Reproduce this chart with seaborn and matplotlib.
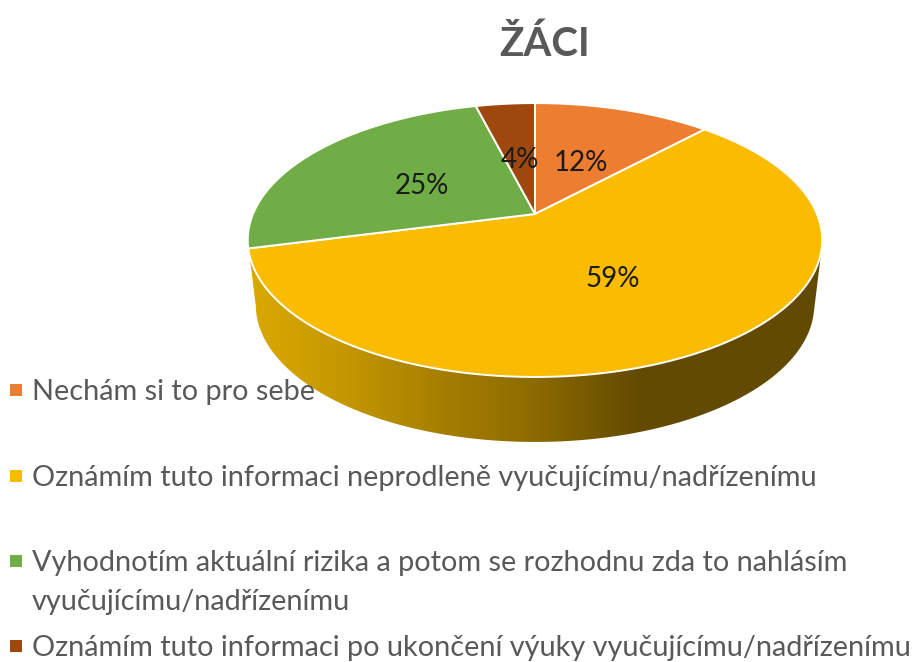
import numpy as np
import matplotlib
matplotlib.use('Agg')
import matplotlib.pyplot as plt
from matplotlib.colors import LinearSegmentedColormap
from matplotlib.patches import Polygon
import seaborn as sns

title = 'ŽÁCI'
shares = [12, 59, 25, 4]
slice_colors = ['#ED7D31', '#FBBC00', '#70AD47', '#9E480E']
legend_labels = [
    ['Nechám si to pro sebe'],
    ['Oznámím tuto informaci neprodleně vyučujícímu/nadřízenímu'],
    ['Vyhodnotím aktuální rizika a potom se rozhodnu zda to nahlásím', 'vyučujícímu/nadřízenímu'],
    ['Oznámím tuto informaci po ukončení výuky vyučujícímu/nadřízenímu'],
]

sns.set_theme(style='white')
plt.rcParams['font.family'] = ['Lato', 'DejaVu Sans']

# pie tilted in perspective, everything in picture pixels
CX, CY = 535, 214
A, B, K = 282, 132, 0.19
DEPTH = 65
BASE_SHRINK = 0.972


def rim(angles):
    # angle in degrees, clockwise from 12 o'clock
    u, v = np.sin(np.radians(angles)), np.cos(np.radians(angles))
    w = 1 + K * v
    return CX + A * u / w, CY - B * v / w


fig = plt.figure(figsize=(9.18, 6.62), dpi=100)
ax = fig.add_axes([0, 0, 1, 1])
ax.set_xlim(0, 918)
ax.set_ylim(662, 0)
ax.axis('off')

# side wall, only the front part shows
edges = np.cumsum([0] + shares) * 3.6
front = np.linspace(104, edges[2] + 3, 200)
top_x, top_y = rim(front)
base_x = CX + (top_x - CX) * BASE_SHRINK
base_y = top_y + DEPTH
wall_pts = np.vstack([np.column_stack([top_x, top_y]), np.column_stack([base_x, base_y])[::-1]])
wall = Polygon(wall_pts, closed=True, facecolor='none', edgecolor='none')
ax.add_patch(wall)

stops = [(250, '#DBA800'), (330, '#C89A00'), (440, '#A67F00'), (530, '#8F6C00'),
         (640, '#624A00'), (825, '#624A00')]
span = stops[-1][0] - stops[0][0]
cmap = LinearSegmentedColormap.from_list(
    'wall', [((x - stops[0][0]) / span, c) for x, c in stops])
img = ax.imshow(np.linspace(0, 1, 400).reshape(1, -1), cmap=cmap, aspect='auto',
                extent=(stops[0][0], stops[-1][0], 450, 230), zorder=1)
img.set_clip_path(wall)
ax.set_xlim(0, 918)
ax.set_ylim(662, 0)

# top of the pie
for start, end, color in zip(edges[:-1], edges[1:], slice_colors):
    x, y = rim(np.linspace(start, end, 200))
    ax.fill(np.r_[CX, x], np.r_[CY, y], facecolor=color, edgecolor='#FFFFFF',
            linewidth=1.4, joinstyle='round', zorder=2)

# slice labels sit near the slice middle, pushed toward the rim
label_radius = [0.48, 0.50, 0.49, 0.47]
for share, start, end, r in zip(shares, edges[:-1], edges[1:], label_radius):
    mid = np.radians((start + end) / 2)
    u, v = r * np.sin(mid), r * np.cos(mid)
    w = 1 + K * v
    ax.text(CX + A * u / w, CY - B * v / w + 3, f'{share}%', fontsize=20, color='#1A1A1A',
            ha='center', va='center', zorder=4)

ax.text(545, 44, title, fontsize=29, fontweight='bold', color='#595959',
        ha='center', va='center', zorder=4)

# legend
legend_y = [390, 476, 561, 646]
sns.scatterplot(x=[16] * len(shares), y=legend_y, hue=legend_y, palette=slice_colors,
                marker='s', s=75, linewidth=0, legend=False, ax=ax, zorder=3)
ax.set_xlim(0, 918)
ax.set_ylim(662, 0)
for lines, y in zip(legend_labels, legend_y):
    for i, line in enumerate(lines):
        ax.text(32, y + 2 + i * 39, line, fontsize=20.8, color='#595959',
                ha='left', va='center', zorder=4)

fig.savefig('out.png', dpi=100)
plt.close(fig)
